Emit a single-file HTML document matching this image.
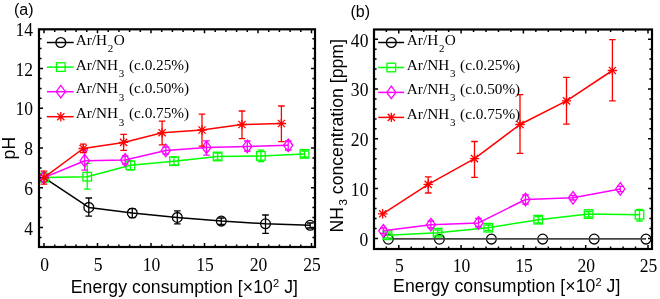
<!DOCTYPE html><html><head><meta charset="utf-8"><style>
html,body{margin:0;padding:0;background:#fff;width:660px;height:299px;overflow:hidden}
svg{display:block;will-change:transform}
.t{font-family:"Liberation Serif", serif;font-size:19.5px;fill:#000}
.lg{font-family:"Liberation Serif", serif;font-size:15.25px;fill:#000}
.lb{font-family:"Liberation Sans", sans-serif;font-size:17.6px;fill:#000;letter-spacing:0.1px}
.pl{font-family:"Liberation Sans", sans-serif;font-size:16px;fill:#000}
</style></head><body>
<svg width="660" height="299" viewBox="0 0 660 299">
<text class="pl" x="14" y="15.1">(a)</text>
<text class="pl" x="350.5" y="17.0">(b)</text>
<g>
<path d="M388.3 239.2 L439.4 239.2 L491.4 239.1 L542.7 239.1 L594.2 239.1 L646 239.1" fill="none" stroke="#000" stroke-width="0" stroke-linejoin="round"/>
<circle cx="388.3" cy="239.2" r="4.9" fill="none" stroke="#000" stroke-width="1.3"/>
<circle cx="439.4" cy="239.2" r="4.9" fill="none" stroke="#000" stroke-width="1.3"/>
<circle cx="491.4" cy="239.1" r="4.9" fill="none" stroke="#000" stroke-width="1.3"/>
<circle cx="542.7" cy="239.1" r="4.9" fill="none" stroke="#000" stroke-width="1.3"/>
<circle cx="594.2" cy="239.1" r="4.9" fill="none" stroke="#000" stroke-width="1.3"/>
<circle cx="646" cy="239.1" r="4.9" fill="none" stroke="#000" stroke-width="1.3"/>
<path d="M388.3 238.9H646" stroke="#444" stroke-width="1.8"/>
<path d="M387.5 235.3 L437.6 232.7 L488.3 227.7 L538.2 219.7 L588.6 214.1 L639.5 214.7" fill="none" stroke="#00ff00" stroke-width="1.5" stroke-linejoin="round"/>
<path d="M387.5 233V238M384.2 233H390.8M384.2 238H390.8" fill="none" stroke="#00ff00" stroke-width="1.3"/>
<path d="M437.6 230V235.5M434.3 230H440.9M434.3 235.5H440.9" fill="none" stroke="#00ff00" stroke-width="1.3"/>
<path d="M488.3 225V230.5M485 225H491.6M485 230.5H491.6" fill="none" stroke="#00ff00" stroke-width="1.3"/>
<path d="M538.2 216.5V223M534.9 216.5H541.5M534.9 223H541.5" fill="none" stroke="#00ff00" stroke-width="1.3"/>
<path d="M588.6 211.5V217M585.3 211.5H591.9M585.3 217H591.9" fill="none" stroke="#00ff00" stroke-width="1.3"/>
<path d="M639.5 209.5V221M636.2 209.5H642.8M636.2 221H642.8" fill="none" stroke="#00ff00" stroke-width="1.3"/>
<rect x="383.2" y="231" width="8.6" height="8.6" fill="none" stroke="#00ff00" stroke-width="1.3"/>
<rect x="433.3" y="228.4" width="8.6" height="8.6" fill="none" stroke="#00ff00" stroke-width="1.3"/>
<rect x="484" y="223.4" width="8.6" height="8.6" fill="none" stroke="#00ff00" stroke-width="1.3"/>
<rect x="533.9" y="215.4" width="8.6" height="8.6" fill="none" stroke="#00ff00" stroke-width="1.3"/>
<rect x="584.3" y="209.8" width="8.6" height="8.6" fill="none" stroke="#00ff00" stroke-width="1.3"/>
<rect x="635.2" y="210.4" width="8.6" height="8.6" fill="none" stroke="#00ff00" stroke-width="1.3"/>
<path d="M383.3 230.8 L430.9 224.7 L478.5 222.9 L525.5 199.5 L573 197.8 L620.3 188.9" fill="none" stroke="#ff00ff" stroke-width="1.5" stroke-linejoin="round"/>
<path d="M383.3 228V233.5M380 228H386.6M380 233.5H386.6" fill="none" stroke="#ff00ff" stroke-width="1.3"/>
<path d="M430.9 221V228M427.6 221H434.2M427.6 228H434.2" fill="none" stroke="#ff00ff" stroke-width="1.3"/>
<path d="M478.5 218.5V227M475.2 218.5H481.8M475.2 227H481.8" fill="none" stroke="#ff00ff" stroke-width="1.3"/>
<path d="M525.5 195V204M522.2 195H528.8M522.2 204H528.8" fill="none" stroke="#ff00ff" stroke-width="1.3"/>
<path d="M573 195.5V200M569.7 195.5H576.3M569.7 200H576.3" fill="none" stroke="#ff00ff" stroke-width="1.3"/>
<path d="M620.3 186.4V191.7M617 186.4H623.6M617 191.7H623.6" fill="none" stroke="#ff00ff" stroke-width="1.3"/>
<path d="M383.3 224.5L387.9 230.8L383.3 237.1L378.7 230.8Z" fill="none" stroke="#ff00ff" stroke-width="1.3"/>
<path d="M430.9 218.4L435.5 224.7L430.9 231L426.3 224.7Z" fill="none" stroke="#ff00ff" stroke-width="1.3"/>
<path d="M478.5 216.6L483.1 222.9L478.5 229.2L473.9 222.9Z" fill="none" stroke="#ff00ff" stroke-width="1.3"/>
<path d="M525.5 193.2L530.1 199.5L525.5 205.8L520.9 199.5Z" fill="none" stroke="#ff00ff" stroke-width="1.3"/>
<path d="M573 191.5L577.6 197.8L573 204.1L568.4 197.8Z" fill="none" stroke="#ff00ff" stroke-width="1.3"/>
<path d="M620.3 182.6L624.9 188.9L620.3 195.2L615.7 188.9Z" fill="none" stroke="#ff00ff" stroke-width="1.3"/>
<path d="M382.7 213.8 L428.2 184.4 L474.5 158.6 L520 124.5 L566.5 100.9 L612.4 70.5" fill="none" stroke="#ff0000" stroke-width="1.5" stroke-linejoin="round"/>
<path d="M428.2 176.8V193M424.9 176.8H431.5M424.9 193H431.5" fill="none" stroke="#ff0000" stroke-width="1.3"/>
<path d="M474.5 141.5V177.4M471.2 141.5H477.8M471.2 177.4H477.8" fill="none" stroke="#ff0000" stroke-width="1.3"/>
<path d="M520 94.7V153.3M516.7 94.7H523.3M516.7 153.3H523.3" fill="none" stroke="#ff0000" stroke-width="1.3"/>
<path d="M566.5 77.3V124.1M563.2 77.3H569.8M563.2 124.1H569.8" fill="none" stroke="#ff0000" stroke-width="1.3"/>
<path d="M612.4 39.7V100.9M609.1 39.7H615.7M609.1 100.9H615.7" fill="none" stroke="#ff0000" stroke-width="1.3"/>
<path d="M382.7 209.1V218.5M378 213.8H387.4M379.1 210.2L386.3 217.4M379.1 217.4L386.3 210.2" fill="none" stroke="#ff0000" stroke-width="1.3"/>
<path d="M428.2 179.7V189.1M423.5 184.4H432.9M424.6 180.8L431.8 188M424.6 188L431.8 180.8" fill="none" stroke="#ff0000" stroke-width="1.3"/>
<path d="M474.5 153.9V163.3M469.8 158.6H479.2M470.9 155L478.1 162.2M470.9 162.2L478.1 155" fill="none" stroke="#ff0000" stroke-width="1.3"/>
<path d="M520 119.8V129.2M515.3 124.5H524.7M516.4 120.9L523.6 128.1M516.4 128.1L523.6 120.9" fill="none" stroke="#ff0000" stroke-width="1.3"/>
<path d="M566.5 96.2V105.6M561.8 100.9H571.2M562.9 97.3L570.1 104.5M562.9 104.5L570.1 97.3" fill="none" stroke="#ff0000" stroke-width="1.3"/>
<path d="M612.4 65.8V75.2M607.7 70.5H617.1M608.8 66.9L616 74.1M608.8 74.1L616 66.9" fill="none" stroke="#ff0000" stroke-width="1.3"/>
</g>
<g>
<path d="M44 177.6 L88.8 207.4 L132.3 213 L177.3 217.4 L221.3 221.1 L265.5 223.8 L310.2 225.3" fill="none" stroke="#000000" stroke-width="1.5" stroke-linejoin="round"/>
<path d="M88.8 198V216.2M85.5 198H92.1M85.5 216.2H92.1" fill="none" stroke="#000000" stroke-width="1.3"/>
<path d="M132.3 208.6V217.7M129 208.6H135.6M129 217.7H135.6" fill="none" stroke="#000000" stroke-width="1.3"/>
<path d="M177.3 210.9V223.8M174 210.9H180.6M174 223.8H180.6" fill="none" stroke="#000000" stroke-width="1.3"/>
<path d="M221.3 218V224.5M218 218H224.6M218 224.5H224.6" fill="none" stroke="#000000" stroke-width="1.3"/>
<path d="M265.5 215V233.3M262.2 215H268.8M262.2 233.3H268.8" fill="none" stroke="#000000" stroke-width="1.3"/>
<path d="M310.2 223V228M306.9 223H313.5M306.9 228H313.5" fill="none" stroke="#000000" stroke-width="1.3"/>
<circle cx="44" cy="177.6" r="4.9" fill="none" stroke="#000000" stroke-width="1.3"/>
<circle cx="88.8" cy="207.4" r="4.9" fill="none" stroke="#000000" stroke-width="1.3"/>
<circle cx="132.3" cy="213" r="4.9" fill="none" stroke="#000000" stroke-width="1.3"/>
<circle cx="177.3" cy="217.4" r="4.9" fill="none" stroke="#000000" stroke-width="1.3"/>
<circle cx="221.3" cy="221.1" r="4.9" fill="none" stroke="#000000" stroke-width="1.3"/>
<circle cx="265.5" cy="223.8" r="4.9" fill="none" stroke="#000000" stroke-width="1.3"/>
<circle cx="310.2" cy="225.3" r="4.9" fill="none" stroke="#000000" stroke-width="1.3"/>
<path d="M44 177.6 L87.2 176.7 L130.4 165.3 L174 161.2 L217.6 156.5 L260.9 155.9 L304.5 153.9" fill="none" stroke="#00ff00" stroke-width="1.5" stroke-linejoin="round"/>
<path d="M87.2 163.3V189.1M83.9 163.3H90.5M83.9 189.1H90.5" fill="none" stroke="#00ff00" stroke-width="1.3"/>
<path d="M130.4 161V170M127.1 161H133.7M127.1 170H133.7" fill="none" stroke="#00ff00" stroke-width="1.3"/>
<path d="M174 157V165M170.7 157H177.3M170.7 165H177.3" fill="none" stroke="#00ff00" stroke-width="1.3"/>
<path d="M217.6 153V160M214.3 153H220.9M214.3 160H220.9" fill="none" stroke="#00ff00" stroke-width="1.3"/>
<path d="M260.9 150.2V161.5M257.6 150.2H264.2M257.6 161.5H264.2" fill="none" stroke="#00ff00" stroke-width="1.3"/>
<path d="M304.5 151V157M301.2 151H307.8M301.2 157H307.8" fill="none" stroke="#00ff00" stroke-width="1.3"/>
<rect x="39.7" y="173.3" width="8.6" height="8.6" fill="none" stroke="#00ff00" stroke-width="1.3"/>
<rect x="82.9" y="172.4" width="8.6" height="8.6" fill="none" stroke="#00ff00" stroke-width="1.3"/>
<rect x="126.1" y="161" width="8.6" height="8.6" fill="none" stroke="#00ff00" stroke-width="1.3"/>
<rect x="169.7" y="156.9" width="8.6" height="8.6" fill="none" stroke="#00ff00" stroke-width="1.3"/>
<rect x="213.3" y="152.2" width="8.6" height="8.6" fill="none" stroke="#00ff00" stroke-width="1.3"/>
<rect x="256.6" y="151.6" width="8.6" height="8.6" fill="none" stroke="#00ff00" stroke-width="1.3"/>
<rect x="300.2" y="149.6" width="8.6" height="8.6" fill="none" stroke="#00ff00" stroke-width="1.3"/>
<path d="M44 177.6 L84.7 160.7 L125.1 160 L165.8 150.4 L206.5 147.4 L247.3 146.4 L288.2 145.3" fill="none" stroke="#ff00ff" stroke-width="1.5" stroke-linejoin="round"/>
<path d="M84.7 150V170.2M81.4 150H88M81.4 170.2H88" fill="none" stroke="#ff00ff" stroke-width="1.3"/>
<path d="M125.1 156V164M121.8 156H128.4M121.8 164H128.4" fill="none" stroke="#ff00ff" stroke-width="1.3"/>
<path d="M165.8 147V154M162.5 147H169.1M162.5 154H169.1" fill="none" stroke="#ff00ff" stroke-width="1.3"/>
<path d="M206.5 140.8V155.2M203.2 140.8H209.8M203.2 155.2H209.8" fill="none" stroke="#ff00ff" stroke-width="1.3"/>
<path d="M247.3 141V151M244 141H250.6M244 151H250.6" fill="none" stroke="#ff00ff" stroke-width="1.3"/>
<path d="M288.2 141V150M284.9 141H291.5M284.9 150H291.5" fill="none" stroke="#ff00ff" stroke-width="1.3"/>
<path d="M44 171.3L48.6 177.6L44 183.9L39.4 177.6Z" fill="none" stroke="#ff00ff" stroke-width="1.3"/>
<path d="M84.7 154.4L89.3 160.7L84.7 167L80.1 160.7Z" fill="none" stroke="#ff00ff" stroke-width="1.3"/>
<path d="M125.1 153.7L129.7 160L125.1 166.3L120.5 160Z" fill="none" stroke="#ff00ff" stroke-width="1.3"/>
<path d="M165.8 144.1L170.4 150.4L165.8 156.7L161.2 150.4Z" fill="none" stroke="#ff00ff" stroke-width="1.3"/>
<path d="M206.5 141.1L211.1 147.4L206.5 153.7L201.9 147.4Z" fill="none" stroke="#ff00ff" stroke-width="1.3"/>
<path d="M247.3 140.1L251.9 146.4L247.3 152.7L242.7 146.4Z" fill="none" stroke="#ff00ff" stroke-width="1.3"/>
<path d="M288.2 139L292.8 145.3L288.2 151.6L283.6 145.3Z" fill="none" stroke="#ff00ff" stroke-width="1.3"/>
<path d="M44 177.6 L83.2 148.5 L123.6 142.4 L162.1 132.7 L202 130 L242 124.5 L281.4 123.5" fill="none" stroke="#ff0000" stroke-width="1.5" stroke-linejoin="round"/>
<path d="M44 171.2V184.2M40.7 171.2H47.3M40.7 184.2H47.3" fill="none" stroke="#ff0000" stroke-width="1.3"/>
<path d="M83.2 144.2V152.6M79.9 144.2H86.5M79.9 152.6H86.5" fill="none" stroke="#ff0000" stroke-width="1.3"/>
<path d="M123.6 134.4V150.3M120.3 134.4H126.9M120.3 150.3H126.9" fill="none" stroke="#ff0000" stroke-width="1.3"/>
<path d="M162.1 121.1V144.8M158.8 121.1H165.4M158.8 144.8H165.4" fill="none" stroke="#ff0000" stroke-width="1.3"/>
<path d="M202 114.2V146.1M198.7 114.2H205.3M198.7 146.1H205.3" fill="none" stroke="#ff0000" stroke-width="1.3"/>
<path d="M242 111V138.6M238.7 111H245.3M238.7 138.6H245.3" fill="none" stroke="#ff0000" stroke-width="1.3"/>
<path d="M281.4 106V141.7M278.1 106H284.7M278.1 141.7H284.7" fill="none" stroke="#ff0000" stroke-width="1.3"/>
<path d="M44 172.9V182.3M39.3 177.6H48.7M40.4 174L47.6 181.2M40.4 181.2L47.6 174" fill="none" stroke="#ff0000" stroke-width="1.3"/>
<path d="M83.2 143.8V153.2M78.5 148.5H87.9M79.6 144.9L86.8 152.1M79.6 152.1L86.8 144.9" fill="none" stroke="#ff0000" stroke-width="1.3"/>
<path d="M123.6 137.7V147.1M118.9 142.4H128.3M120 138.8L127.2 146M120 146L127.2 138.8" fill="none" stroke="#ff0000" stroke-width="1.3"/>
<path d="M162.1 128V137.4M157.4 132.7H166.8M158.5 129.1L165.7 136.3M158.5 136.3L165.7 129.1" fill="none" stroke="#ff0000" stroke-width="1.3"/>
<path d="M202 125.3V134.7M197.3 130H206.7M198.4 126.4L205.6 133.6M198.4 133.6L205.6 126.4" fill="none" stroke="#ff0000" stroke-width="1.3"/>
<path d="M242 119.8V129.2M237.3 124.5H246.7M238.4 120.9L245.6 128.1M238.4 128.1L245.6 120.9" fill="none" stroke="#ff0000" stroke-width="1.3"/>
<path d="M281.4 118.8V128.2M276.7 123.5H286.1M277.8 119.9L285 127.1M277.8 127.1L285 119.9" fill="none" stroke="#ff0000" stroke-width="1.3"/>
</g>
<path d="M44 247V243M44 29.3V33.3M54.7 247V244.4M54.7 29.3V31.9M65.4 247V244.4M65.4 29.3V31.9M76.1 247V244.4M76.1 29.3V31.9M86.8 247V244.4M86.8 29.3V31.9M97.5 247V243M97.5 29.3V33.3M108.2 247V244.4M108.2 29.3V31.9M118.9 247V244.4M118.9 29.3V31.9M129.6 247V244.4M129.6 29.3V31.9M140.3 247V244.4M140.3 29.3V31.9M151 247V243M151 29.3V33.3M161.7 247V244.4M161.7 29.3V31.9M172.4 247V244.4M172.4 29.3V31.9M183.1 247V244.4M183.1 29.3V31.9M193.8 247V244.4M193.8 29.3V31.9M204.5 247V243M204.5 29.3V33.3M215.2 247V244.4M215.2 29.3V31.9M225.9 247V244.4M225.9 29.3V31.9M236.6 247V244.4M236.6 29.3V31.9M247.3 247V244.4M247.3 29.3V31.9M258 247V243M258 29.3V33.3M268.7 247V244.4M268.7 29.3V31.9M279.4 247V244.4M279.4 29.3V31.9M290.1 247V244.4M290.1 29.3V31.9M300.8 247V244.4M300.8 29.3V31.9M311.5 247V243M311.5 29.3V33.3M39 237.44H41.6M315 237.44H312.4M39 227.5H43M315 227.5H311M39 217.56H41.6M315 217.56H312.4M39 207.62H41.6M315 207.62H312.4M39 197.69H41.6M315 197.69H312.4M39 187.75H43M315 187.75H311M39 177.81H41.6M315 177.81H312.4M39 167.88H41.6M315 167.88H312.4M39 157.94H41.6M315 157.94H312.4M39 148H43M315 148H311M39 138.06H41.6M315 138.06H312.4M39 128.12H41.6M315 128.12H312.4M39 118.19H41.6M315 118.19H312.4M39 108.25H43M315 108.25H311M39 98.31H41.6M315 98.31H312.4M39 88.38H41.6M315 88.38H312.4M39 78.44H41.6M315 78.44H312.4M39 68.5H43M315 68.5H311M39 58.56H41.6M315 58.56H312.4M39 48.62H41.6M315 48.62H312.4M39 38.69H41.6M315 38.69H312.4" fill="none" stroke="#000" stroke-width="1.5"/>
<rect x="39" y="29.3" width="276" height="217.7" fill="none" stroke="#000" stroke-width="2.2"/>
<path d="M373.88 249V246.4M373.88 29.5V32.1M386.34 249V246.4M386.34 29.5V32.1M398.8 249V245M398.8 29.5V33.5M411.26 249V246.4M411.26 29.5V32.1M423.72 249V246.4M423.72 29.5V32.1M436.18 249V246.4M436.18 29.5V32.1M448.64 249V246.4M448.64 29.5V32.1M461.1 249V245M461.1 29.5V33.5M473.56 249V246.4M473.56 29.5V32.1M486.02 249V246.4M486.02 29.5V32.1M498.48 249V246.4M498.48 29.5V32.1M510.94 249V246.4M510.94 29.5V32.1M523.4 249V245M523.4 29.5V33.5M535.86 249V246.4M535.86 29.5V32.1M548.32 249V246.4M548.32 29.5V32.1M560.78 249V246.4M560.78 29.5V32.1M573.24 249V246.4M573.24 29.5V32.1M585.7 249V245M585.7 29.5V33.5M598.16 249V246.4M598.16 29.5V32.1M610.62 249V246.4M610.62 29.5V32.1M623.08 249V246.4M623.08 29.5V32.1M635.54 249V246.4M635.54 29.5V32.1M648 249V245M648 29.5V33.5M374 238.4H378M652 238.4H648M374 228.44H376.6M652 228.44H649.4M374 218.48H376.6M652 218.48H649.4M374 208.52H376.6M652 208.52H649.4M374 198.56H376.6M652 198.56H649.4M374 188.6H378M652 188.6H648M374 178.64H376.6M652 178.64H649.4M374 168.68H376.6M652 168.68H649.4M374 158.72H376.6M652 158.72H649.4M374 148.76H376.6M652 148.76H649.4M374 138.8H378M652 138.8H648M374 128.84H376.6M652 128.84H649.4M374 118.88H376.6M652 118.88H649.4M374 108.92H376.6M652 108.92H649.4M374 98.96H376.6M652 98.96H649.4M374 89H378M652 89H648M374 79.04H376.6M652 79.04H649.4M374 69.08H376.6M652 69.08H649.4M374 59.12H376.6M652 59.12H649.4M374 49.16H376.6M652 49.16H649.4M374 39.2H378M652 39.2H648" fill="none" stroke="#000" stroke-width="1.5"/>
<rect x="374" y="29.5" width="278" height="219.5" fill="none" stroke="#000" stroke-width="2.2"/>
<text class="t" transform="translate(44.6,270.8) scale(0.9,1)" text-anchor="middle">0</text>
<text class="t" transform="translate(98.1,270.8) scale(0.9,1)" text-anchor="middle">5</text>
<text class="t" transform="translate(151.6,270.8) scale(0.9,1)" text-anchor="middle">10</text>
<text class="t" transform="translate(205.1,270.8) scale(0.9,1)" text-anchor="middle">15</text>
<text class="t" transform="translate(258.6,270.8) scale(0.9,1)" text-anchor="middle">20</text>
<text class="t" transform="translate(312.1,270.8) scale(0.9,1)" text-anchor="middle">25</text>
<text class="t" transform="translate(33.1,234.5) scale(0.9,1)" text-anchor="end">4</text>
<text class="t" transform="translate(33.1,194.75) scale(0.9,1)" text-anchor="end">6</text>
<text class="t" transform="translate(33.1,155) scale(0.9,1)" text-anchor="end">8</text>
<text class="t" transform="translate(33.1,115.25) scale(0.9,1)" text-anchor="end">10</text>
<text class="t" transform="translate(33.1,75.5) scale(0.9,1)" text-anchor="end">12</text>
<text class="t" transform="translate(33.1,35.75) scale(0.9,1)" text-anchor="end">14</text>
<text class="t" transform="translate(399.3,271.9) scale(0.9,1)" text-anchor="middle">5</text>
<text class="t" transform="translate(461.6,271.9) scale(0.9,1)" text-anchor="middle">10</text>
<text class="t" transform="translate(523.9,271.9) scale(0.9,1)" text-anchor="middle">15</text>
<text class="t" transform="translate(586.2,271.9) scale(0.9,1)" text-anchor="middle">20</text>
<text class="t" transform="translate(648.5,271.9) scale(0.9,1)" text-anchor="middle">25</text>
<text class="t" transform="translate(368.4,245.7) scale(0.9,1)" text-anchor="end">0</text>
<text class="t" transform="translate(368.4,195.9) scale(0.9,1)" text-anchor="end">10</text>
<text class="t" transform="translate(368.4,146.1) scale(0.9,1)" text-anchor="end">20</text>
<text class="t" transform="translate(368.4,96.3) scale(0.9,1)" text-anchor="end">30</text>
<text class="t" transform="translate(368.4,46.5) scale(0.9,1)" text-anchor="end">40</text>
<text class="lb" x="70.7" y="293">Energy consumption [×10<tspan dy="-6" font-size="11">2</tspan><tspan dy="6"> J]</tspan></text>
<text class="lb" x="393.1" y="291.7">Energy consumption [×10<tspan dy="-6" font-size="11">2</tspan><tspan dy="6"> J]</tspan></text>
<text class="lb" transform="translate(14.7,159.5) rotate(-90)">pH</text>
<text class="lb" style="letter-spacing:0.03px" transform="translate(343,232.5) rotate(-90)">NH<tspan dx="1.5" dy="3.7" font-size="11.5">3</tspan><tspan dy="-3.7"> concentration [ppm]</tspan></text>
<path d="M46.9 42.5H73.7" stroke="#000000" stroke-width="1.5"/>
<circle cx="60.8" cy="42.5" r="4.9" fill="none" stroke="#000000" stroke-width="1.3"/>
<text class="lg" x="75.7" y="45">Ar/H<tspan dx="0.8" dy="7.3" font-size="11">2</tspan><tspan dx="0.4" dy="-7.3">O</tspan></text>
<path d="M46.9 67.1H73.7" stroke="#00ff00" stroke-width="1.5"/>
<rect x="56.5" y="62.8" width="8.6" height="8.6" fill="none" stroke="#00ff00" stroke-width="1.3"/>
<text class="lg" x="75.7" y="69.6">Ar/NH<tspan dx="0.8" dy="7.3" font-size="11">3</tspan><tspan dx="0.8" dy="-7.3"> (c.0.25%)</tspan></text>
<path d="M46.9 91.7H73.7" stroke="#ff00ff" stroke-width="1.5"/>
<path d="M60.8 85.4L65.4 91.7L60.8 98L56.2 91.7Z" fill="none" stroke="#ff00ff" stroke-width="1.3"/>
<text class="lg" x="75.7" y="93.4">Ar/NH<tspan dx="0.8" dy="7.3" font-size="11">3</tspan><tspan dx="0.8" dy="-7.3"> (c.0.50%)</tspan></text>
<path d="M46.9 116.7H73.7" stroke="#ff0000" stroke-width="1.5"/>
<path d="M60.8 112V121.4M56.1 116.7H65.5M57.2 113.1L64.4 120.3M57.2 120.3L64.4 113.1" fill="none" stroke="#ff0000" stroke-width="1.3"/>
<text class="lg" x="75.7" y="118.4">Ar/NH<tspan dx="0.8" dy="7.3" font-size="11">3</tspan><tspan dx="0.8" dy="-7.3"> (c.0.75%)</tspan></text>
<path d="M378.2 42.5H404.1" stroke="#000000" stroke-width="1.5"/>
<circle cx="391.3" cy="42.5" r="4.9" fill="none" stroke="#000000" stroke-width="1.3"/>
<text class="lg" x="406.8" y="45">Ar/H<tspan dx="0.8" dy="7.3" font-size="11">2</tspan><tspan dx="0.4" dy="-7.3">O</tspan></text>
<path d="M378.2 67.5H404.1" stroke="#00ff00" stroke-width="1.5"/>
<rect x="387" y="63.2" width="8.6" height="8.6" fill="none" stroke="#00ff00" stroke-width="1.3"/>
<text class="lg" x="406.8" y="69.6">Ar/NH<tspan dx="0.8" dy="7.3" font-size="11">3</tspan><tspan dx="0.8" dy="-7.3"> (c.0.25%)</tspan></text>
<path d="M378.2 92.4H404.1" stroke="#ff00ff" stroke-width="1.5"/>
<path d="M391.3 86.1L395.9 92.4L391.3 98.7L386.7 92.4Z" fill="none" stroke="#ff00ff" stroke-width="1.3"/>
<text class="lg" x="406.8" y="93.8">Ar/NH<tspan dx="0.8" dy="7.3" font-size="11">3</tspan><tspan dx="0.8" dy="-7.3"> (c.0.50%)</tspan></text>
<path d="M378.2 117.4H404.1" stroke="#ff0000" stroke-width="1.5"/>
<path d="M391.3 112.7V122.1M386.6 117.4H396M387.7 113.8L394.9 121M387.7 121L394.9 113.8" fill="none" stroke="#ff0000" stroke-width="1.3"/>
<text class="lg" x="406.8" y="118.8">Ar/NH<tspan dx="0.8" dy="7.3" font-size="11">3</tspan><tspan dx="0.8" dy="-7.3"> (c.0.75%)</tspan></text>
</svg></body></html>
